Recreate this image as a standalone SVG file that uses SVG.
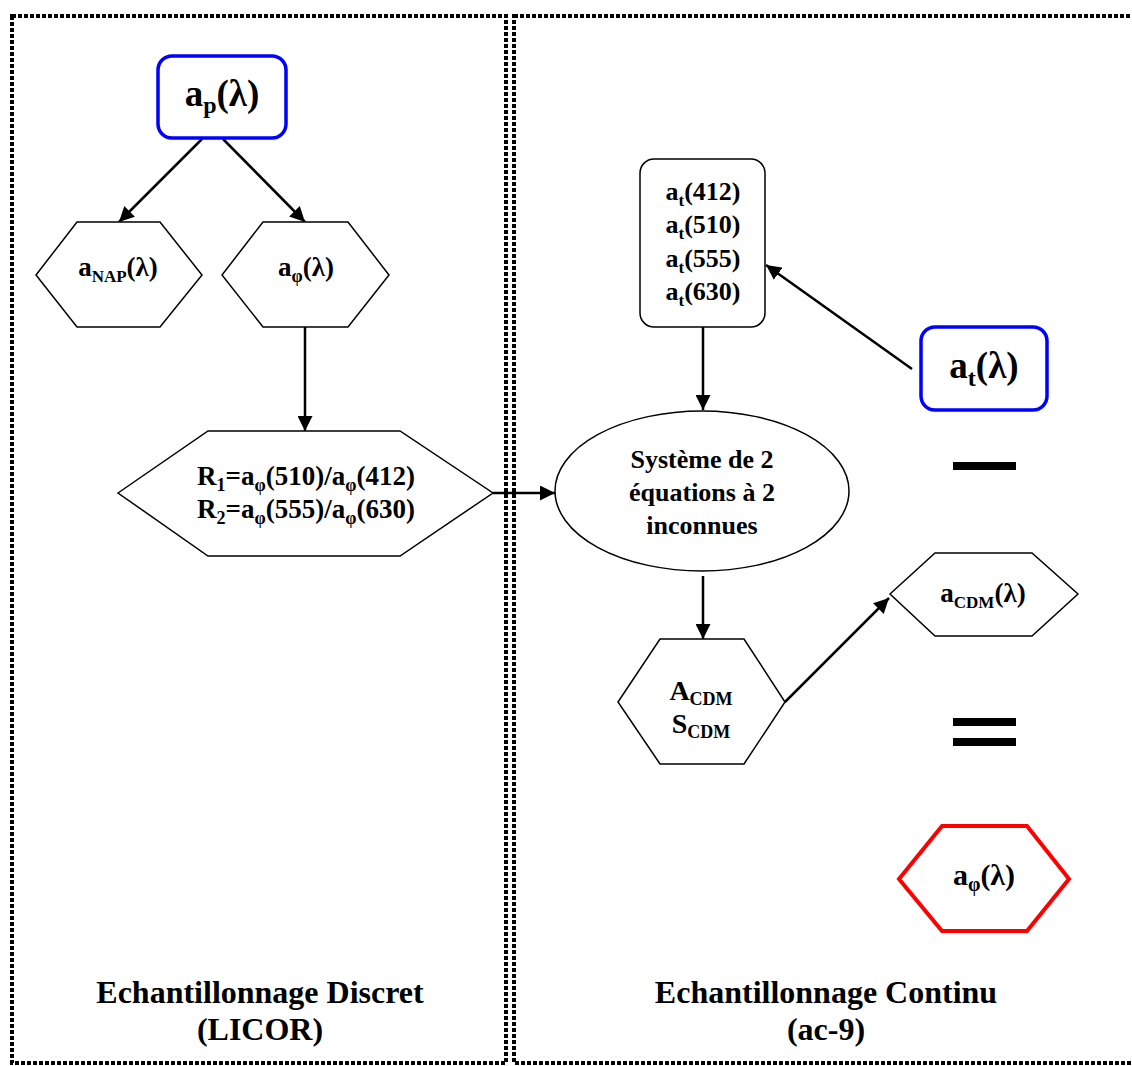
<svg xmlns="http://www.w3.org/2000/svg" width="1132" height="1066" viewBox="0 0 1132 1066">
<style>
.t{font-family:"Liberation Serif","Times New Roman",serif;font-weight:bold;fill:#000;text-anchor:middle}
.hex{fill:#fff;stroke:#000;stroke-width:1.5}
.c{stroke:#000;stroke-width:2.5;fill:none;marker-end:url(#ah)}
.frame{fill:none;stroke:#000;stroke-width:4;stroke-dasharray:4 2}
</style>
<defs>
<marker id="ah" viewBox="0 0 10 10" refX="10" refY="5" markerWidth="6" markerHeight="6" markerUnits="strokeWidth" orient="auto">
<path d="M0,0 L10,5 L0,10 z" fill="#000"/>
</marker>
</defs>
<rect width="1132" height="1066" fill="#fff"/>
<g id="frames">
<rect class="frame" x="12" y="16" width="494" height="1047"/>
<rect class="frame" x="514" y="16" width="622" height="1047"/>
</g>
<g id="connectors">
<line class="c" x1="202" y1="139" x2="119" y2="222"/>
<line class="c" x1="223" y1="139" x2="305" y2="222"/>
<line class="c" x1="305" y1="327" x2="305" y2="431"/>
<line class="c" x1="493" y1="493" x2="555" y2="493"/>
<line class="c" x1="703" y1="327" x2="703" y2="410"/>
<line class="c" x1="912" y1="369" x2="766" y2="265"/>
<line class="c" x1="703" y1="576" x2="703" y2="639"/>
<line class="c" x1="785" y1="702" x2="889" y2="598"/>
</g>
<g id="n_ap">
<rect x="158" y="56" width="128" height="82" rx="14" fill="#fff" stroke="#0000ff" stroke-width="3.5"/>
<text class="t" x="222" y="106" font-size="37">a<tspan font-size="24" dy="7">p</tspan><tspan dy="-7">(λ)</tspan></text>
</g>
<g id="n_anap">
<polygon class="hex" points="36,275 77,222 160,222 202,275 160,327 77,327"/>
<text class="t" x="118" y="276" font-size="27">a<tspan font-size="17" dy="6">NAP</tspan><tspan dy="-6">(λ)</tspan></text>
</g>
<g id="n_aphi">
<polygon class="hex" points="222,275 263,222 348,222 389,275 348,327 263,327"/>
<text class="t" x="306" y="276" font-size="27">a<tspan font-size="18" dy="6">φ</tspan><tspan dy="-6">(λ)</tspan></text>
</g>
<g id="n_ratios">
<polygon class="hex" points="118,493 208,431 400,431 493,493 400,556 208,556"/>
<text class="t" x="306" y="485" font-size="27">R<tspan font-size="18" dy="6">1</tspan><tspan dy="-6">=a</tspan><tspan font-size="18" dy="6">φ</tspan><tspan dy="-6">(510)/a</tspan><tspan font-size="18" dy="6">φ</tspan><tspan dy="-6">(412)</tspan></text>
<text class="t" x="306" y="518" font-size="27">R<tspan font-size="18" dy="6">2</tspan><tspan dy="-6">=a</tspan><tspan font-size="18" dy="6">φ</tspan><tspan dy="-6">(555)/a</tspan><tspan font-size="18" dy="6">φ</tspan><tspan dy="-6">(630)</tspan></text>
</g>
<g id="n_at4">
<rect x="640" y="159" width="125" height="168" rx="14" fill="#fff" stroke="#000" stroke-width="1.5"/>
<text class="t" x="703" y="200" font-size="26">a<tspan font-size="17" dy="6">t</tspan><tspan dy="-6">(412)</tspan></text>
<text class="t" x="703" y="233" font-size="26">a<tspan font-size="17" dy="6">t</tspan><tspan dy="-6">(510)</tspan></text>
<text class="t" x="703" y="267" font-size="26">a<tspan font-size="17" dy="6">t</tspan><tspan dy="-6">(555)</tspan></text>
<text class="t" x="703" y="300" font-size="26">a<tspan font-size="17" dy="6">t</tspan><tspan dy="-6">(630)</tspan></text>
</g>
<g id="n_at">
<rect x="921" y="327" width="126" height="83" rx="14" fill="#fff" stroke="#0000ff" stroke-width="3.5"/>
<text class="t" x="984" y="378" font-size="37">a<tspan font-size="24" dy="8">t</tspan><tspan dy="-8">(λ)</tspan></text>
</g>
<g id="n_system">
<ellipse cx="702" cy="491" rx="147" ry="80" fill="#fff" stroke="#000" stroke-width="1.5"/>
<text class="t" x="702" y="468" font-size="26">Système de 2</text>
<text class="t" x="702" y="501" font-size="26">équations à 2</text>
<text class="t" x="702" y="534" font-size="26">inconnues</text>
</g>
<g id="n_acdm_scdm">
<polygon class="hex" points="618,702 660,639 744,639 785,702 744,764 660,764"/>
<text class="t" x="701" y="700" font-size="28">A<tspan font-size="18" dy="5">CDM</tspan></text>
<text class="t" x="701" y="733" font-size="28">S<tspan font-size="18" dy="5">CDM</tspan></text>
</g>
<g id="n_acdm">
<polygon class="hex" points="890,594 935,553 1032,553 1078,594 1032,636 935,636"/>
<text class="t" x="983" y="602" font-size="27">a<tspan font-size="17" dy="6">CDM</tspan><tspan dy="-6">(λ)</tspan></text>
</g>
<g id="minus">
<rect x="953" y="462" width="63" height="8" fill="#000"/>
</g>
<g id="equals">
<rect x="953" y="718" width="63" height="8" fill="#000"/>
<rect x="953" y="738" width="63" height="8" fill="#000"/>
</g>
<g id="n_aphi_result">
<polygon points="899,879 942,826 1027,826 1069,879 1027,931 942,931" fill="#fff" stroke="#ff0000" stroke-width="4"/>
<text class="t" x="984" y="885" font-size="30">a<tspan font-size="20" dy="6">φ</tspan><tspan dy="-6">(λ)</tspan></text>
</g>
<g id="labels">
<text class="t" x="260" y="1003" font-size="32">Echantillonnage Discret</text>
<text class="t" x="260" y="1040" font-size="32">(LICOR)</text>
<text class="t" x="826" y="1003" font-size="32">Echantillonnage Continu</text>
<text class="t" x="826" y="1040" font-size="32">(ac-9)</text>
</g>
</svg>
